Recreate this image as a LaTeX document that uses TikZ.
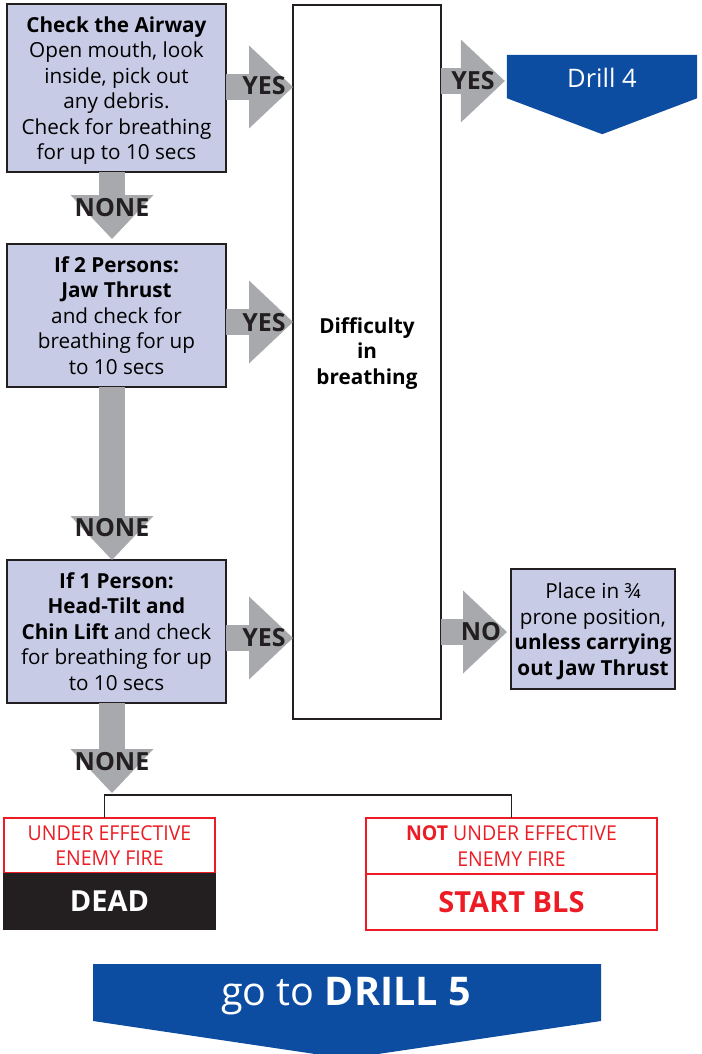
\documentclass[tikz,border=0pt]{standalone}
\usepackage{fontspec}
\setmainfont{Open Sans}
\usepackage{graphicx}
\usetikzlibrary{positioning,calc,arrows.meta}

\definecolor{boxlav}{HTML}{C8CBE6}
\definecolor{boxline}{HTML}{231F20}
\definecolor{arrowgray}{HTML}{A7A9AC}
\definecolor{drillblue}{HTML}{0D4DA1}
\definecolor{firered}{HTML}{ED1C24}

\newcommand{\cond}[1]{\scalebox{0.95}[1]{#1}}

\begin{document}
\begin{tikzpicture}[x=1pt,y=-1pt,
    stepbox/.style={draw=boxline, line width=2pt, fill=boxlav, align=center,
        inner sep=0pt, outer sep=0pt, text depth=0pt, font=\fontsize{20.7}{25.5}\selectfont},
    bigarrow/.style={arrowgray, line width=26pt,
        -{Triangle[length=44pt, width=83pt, line width=0pt]}},
    arrowlabel/.style={font=\fontsize{25}{28}\selectfont\bfseries, text=boxline, inner sep=0pt},
    firebox/.style={draw=firered, line width=2pt, fill=white, text=firered, align=center,
        inner sep=0pt, outer sep=0pt},
    drilltext/.style={text=white, inner sep=0pt}]

    \useasboundingbox (0,0) rectangle (701,1054);

    % Steps on the left
    \node[stepbox, minimum width=219, minimum height=168] (airway) at (116.5,88)
        {\textbf{Check the Airway}\\Open mouth, look\\inside, pick out\\any debris.\\Check for breathing\\for up to 10 secs};
    \node[stepbox, minimum width=219, minimum height=143] (twopers) at (116.5,315.5)
        {\textbf{If 2 Persons:}\\\textbf{Jaw Thrust}\\and check for\\breathing for up\\to 10 secs};
    \node[stepbox, minimum width=219, minimum height=143] (onepers) at (116.5,631.5)
        {\textbf{If 1 Person:}\\\textbf{Head-Tilt and}\\\textbf{Chin Lift} and check\\for breathing for up\\to 10 secs};

    % Middle column
    \node[stepbox, fill=white, minimum width=148, minimum height=714] (difficulty) at (367,362) {};
    \node[stepbox, draw=none, fill=none] (difftext) at (367,351)
        {\textbf{Difficulty}\\\textbf{in}\\\textbf{breathing}};

    % Right hand side
    \node[stepbox, minimum width=164, minimum height=120] (prone) at (593,629)
        {Place in ¾\\prone position,\\\textbf{unless carrying}\\\textbf{out Jaw Thrust}};
    \node[drilltext, minimum width=190, minimum height=43] (drillfour) at (602,76.5) {};
    \fill[drillblue] (drillfour.north west) -- (drillfour.north east) -- (drillfour.south east)
        -- ++(-95,36) -- (drillfour.south west) -- cycle;
    \node[drilltext, font=\fontsize{25.5}{28}\selectfont] at ([yshift=-1pt]drillfour) {Drill 4};

    % Split at the bottom
    \node[firebox, minimum width=211, minimum height=55, font=\fontsize{20.5}{25.5}\selectfont] (underfire) at (109.5,845.5)
        {\cond{UNDER EFFECTIVE}\\\cond{ENEMY FIRE}};
    \node[firebox, fill=boxline, draw=none, text=white, minimum width=213, minimum height=57,
        font=\fontsize{29}{32}\selectfont\bfseries, below=0pt of underfire] (dead) {DEAD};
    \node[firebox, minimum width=291, minimum height=56, font=\fontsize{20.5}{25.5}\selectfont] (notfire) at (511.5,846)
        {\cond{\textbf{NOT} UNDER EFFECTIVE}\\\cond{ENEMY FIRE}};
    \node[firebox, minimum width=291, minimum height=56, font=\fontsize{29}{32}\selectfont\bfseries,
        below=0pt of notfire] (startbls) {START BLS};
    \coordinate (join) at ([yshift=23pt]underfire.north -| onepers.south);
    \draw[boxline, line width=1.8pt] ([xshift=-5pt]underfire.north) |- (join) -| (notfire.north);

    % Go to drill 5
    \fill[drillblue] (93,964) -- (601,964) -- (601,1021) -- (378,1054) -- (315,1054) -- (93,1021) -- cycle;
    \node[drilltext, font=\fontsize{39.5}{42}\selectfont] (drillfive) at (346,996) {go to \textbf{DRILL 5}};

    % YES arrows
    \draw[bigarrow] (airway.east |- 0,87) -- (difficulty.west |- 0,87);
    \draw[bigarrow] (twopers.east |- 0,322) -- (difficulty.west |- 0,322);
    \draw[bigarrow] (onepers.east |- 0,638) -- (difficulty.west |- 0,638);
    \draw[bigarrow, shorten >=2pt] (difficulty.east |- 0,81) -- (drillfour.west |- 0,81);
    \draw[bigarrow, shorten >=4pt] (difficulty.east |- 0,632) -- (prone.west |- 0,632);

    % NONE arrows
    \draw[bigarrow, shorten >=5pt] ([xshift=-4.5pt]airway.south) -- ([xshift=-4.5pt]twopers.north);
    \draw[bigarrow] ([xshift=-4.5pt]twopers.south) -- ([xshift=-4.5pt]onepers.north);
    \draw[bigarrow, shorten >=2pt] ([xshift=-4.5pt]onepers.south) -- ([xshift=-4.5pt]join);

    % Labels
    \node[arrowlabel] (yesa) at (264,86) {YES};
    \node[arrowlabel] (yesb) at (264,323) {YES};
    \node[arrowlabel] (yesc) at (264,638) {YES};
    \node[arrowlabel] (yesd) at (473,81) {YES};
    \node[arrowlabel] (nolab) at (481,632) {NO};
    \node[arrowlabel] (nonea) at (112,208) {NONE};
    \node[arrowlabel] (noneb) at (112,528) {NONE};
    \node[arrowlabel] (nonec) at (112,762) {NONE};
\end{tikzpicture}
\end{document}
